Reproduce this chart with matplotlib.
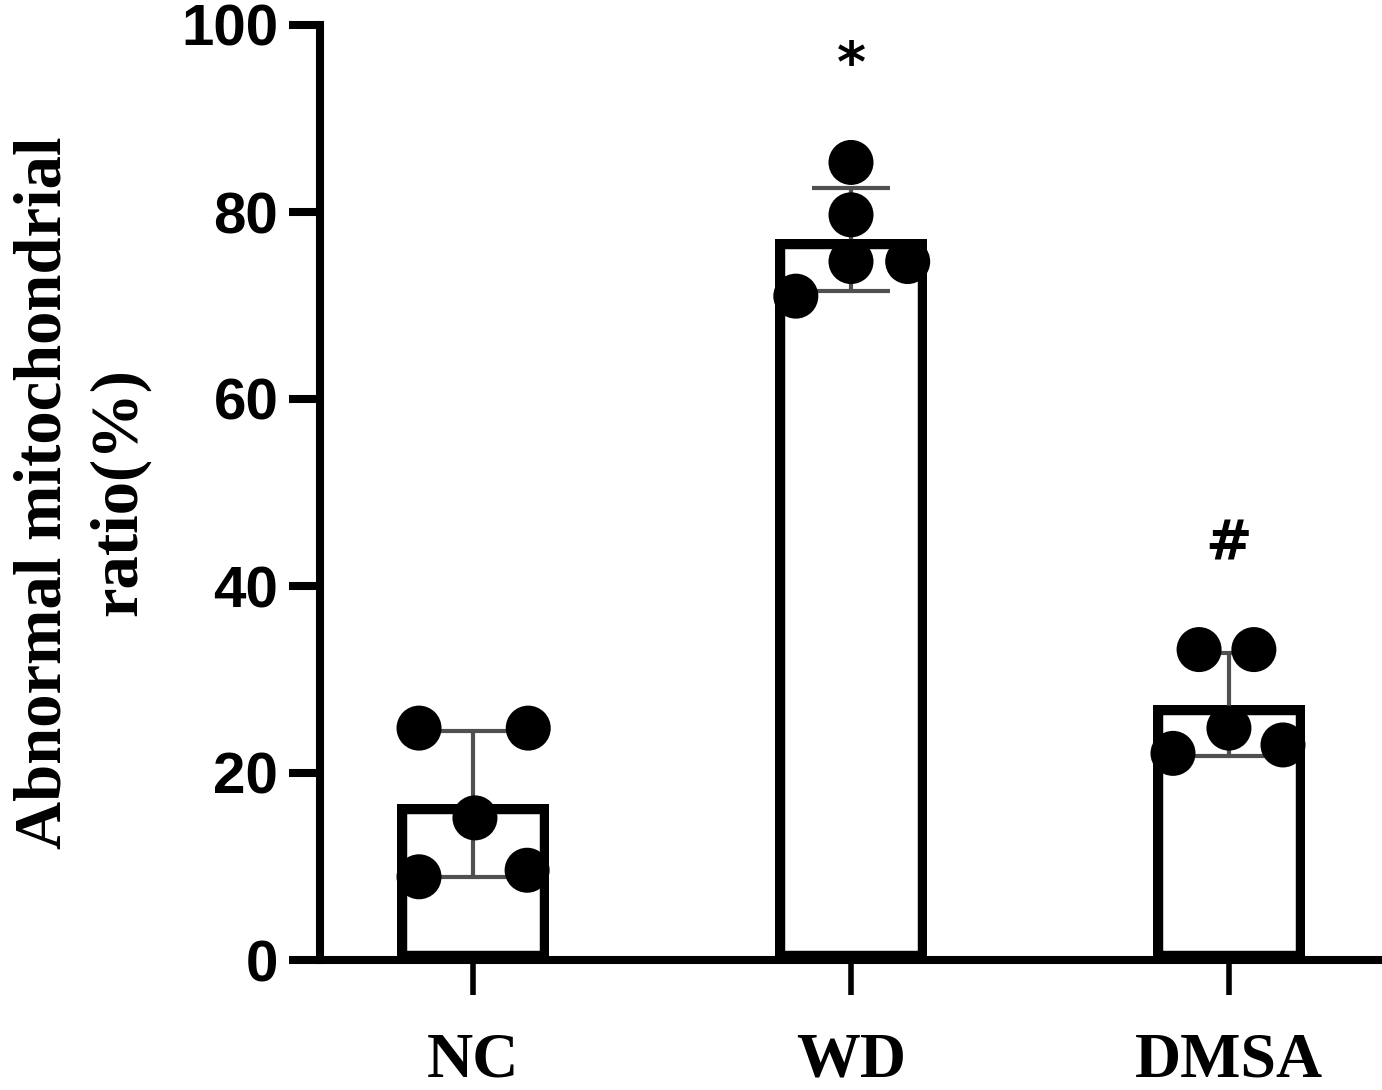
import numpy as np
import matplotlib
matplotlib.use("Agg")
from matplotlib import pyplot as plt

# values
groups     = ["NC", "WD", "DMSA"]
means      = [16.7, 77.1, 27.3]
sds        = [7.8, 5.5, 5.5]
nc_pts     = [24.8, 24.8, 15.2, 8.9, 9.6]
wd_pts     = [85.3, 79.7, 74.7, 74.7, 71.0]
dmsa_pts   = [33.2, 33.2, 24.8, 22.1, 23.0]
nc_jit     = [-0.143, 0.146, 0.005, -0.143, 0.143]
wd_jit     = [0.0, 0.0, 0.0, 0.15, -0.146]
dmsa_jit   = [-0.079, 0.066, 0.0, -0.148, 0.143]
marks      = ["", "*", "#"]
mark_y     = [0, 94.0, 42.8]
yticks     = [0, 20, 40, 60, 80, 100]

points = [nc_pts, wd_pts, dmsa_pts]
jitter = [nc_jit, wd_jit, dmsa_jit]

fig = plt.figure(figsize=(13.82, 10.90), dpi=100)
ax = fig.add_axes([320/1382, 1 - 960/1090, 1 - 320/1382, (960 - 25)/1090])

x = np.arange(len(groups))
bars = ax.bar(x, means, width=0.40, color="white", edgecolor="black", linewidth=14, zorder=2)
for b in bars:
    b.set_clip_path(b)   # keep only the inner half of the stroke

ax.errorbar(x, means, yerr=sds, fmt="none", ecolor="#505050", elinewidth=3,
            capsize=28, capthick=3, zorder=3)

for i in range(len(groups)):
    ax.scatter(x[i] + np.array(jitter[i]), points[i], s=1050, color="black",
               edgecolors="none", zorder=4, clip_on=False)
    if marks[i]:
        ax.text(x[i], mark_y[i], marks[i], ha="center", va="baseline",
                fontsize=40, fontweight="heavy", family="DejaVu Sans")

ax.set_xlim(-0.405, 2.405)
ax.set_ylim(0, 100)
ax.set_yticks(yticks)
ax.set_xticks(x)
ax.set_xticklabels(groups, fontsize=46, fontweight="bold", family="Liberation Serif")
for lab in ax.get_yticklabels():
    lab.set_fontsize(42)
    lab.set_fontweight("bold")
    lab.set_family("Liberation Sans")

ax.spines["top"].set_visible(False)
ax.spines["right"].set_visible(False)
ax.spines["left"].set_linewidth(5.8)
ax.spines["bottom"].set_linewidth(5.8)
ax.tick_params(axis="y", length=22, width=5.8, pad=8)
ax.tick_params(axis="x", length=25, width=4, pad=27)

ax.set_ylabel("Abnormal mitochondrial\nratio(%)", fontsize=48, fontweight="bold",
              family="Liberation Serif", linespacing=1.3)
ax.yaxis.set_label_coords(-0.16, 0.5)

fig.savefig("out.png", dpi=100)
